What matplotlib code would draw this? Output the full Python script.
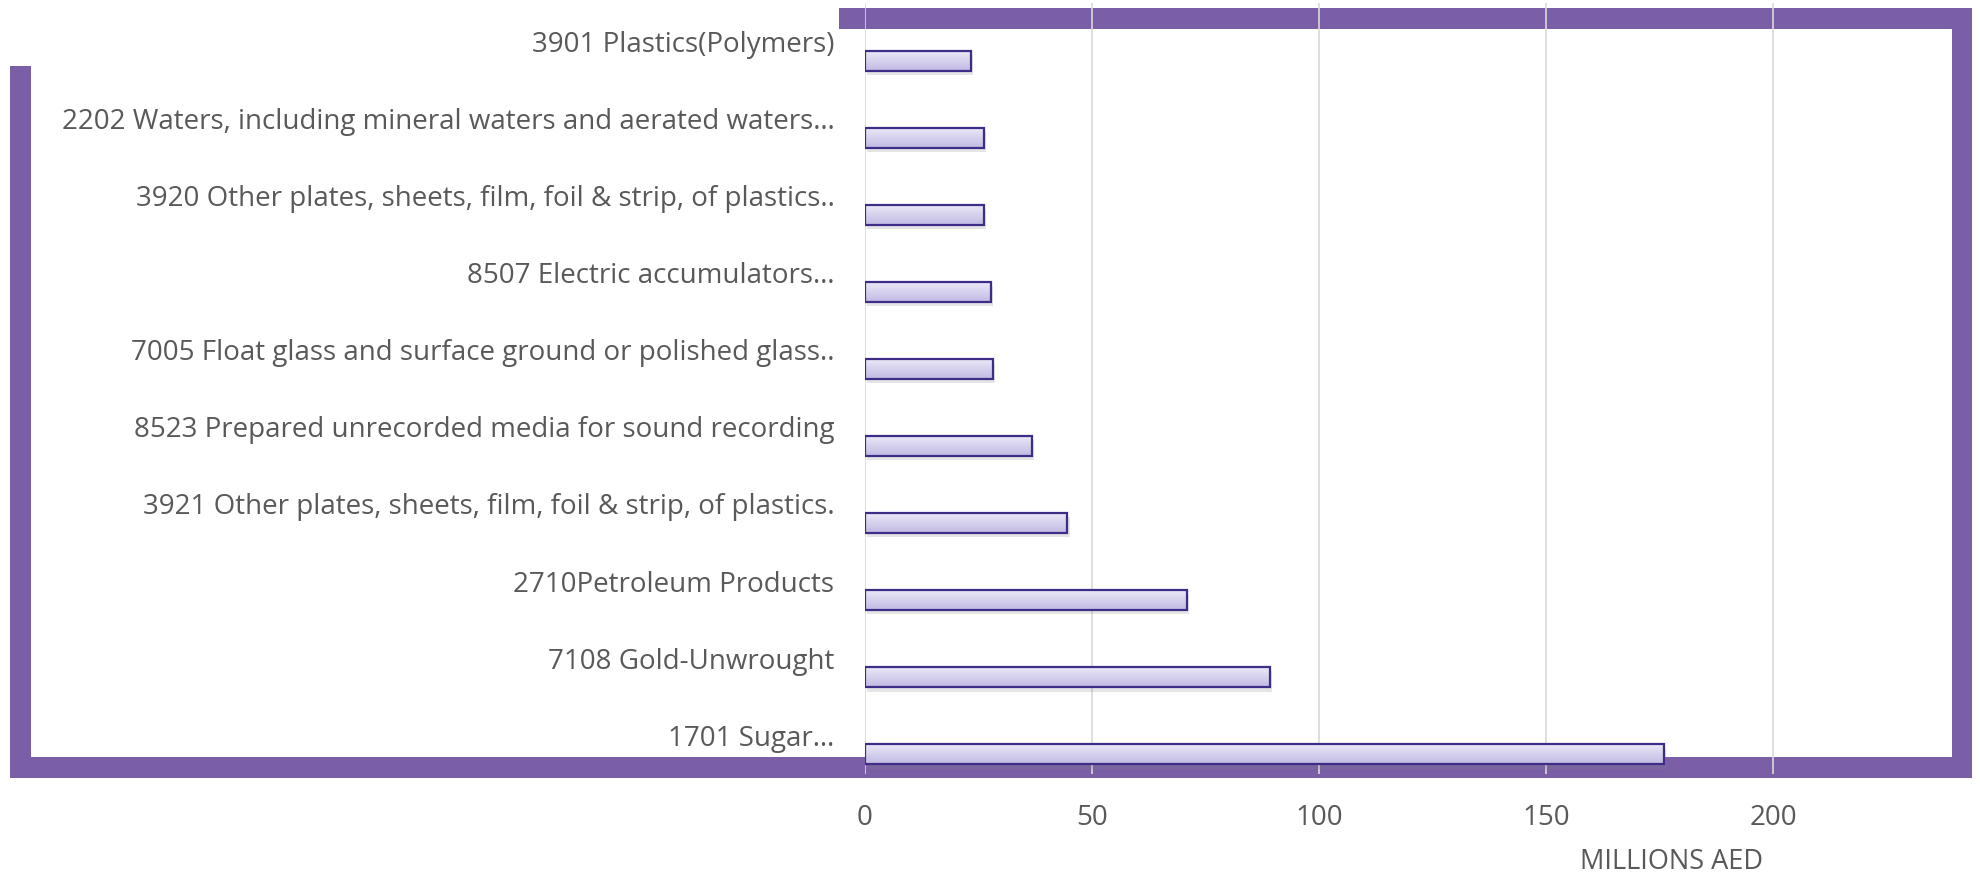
import matplotlib
matplotlib.use("Agg")
import matplotlib.pyplot as plt
import matplotlib.patheffects as pe
from matplotlib.colors import LinearSegmentedColormap
from matplotlib.patches import Rectangle
import numpy as np

# data, top to bottom
labels = [
    "3901 Plastics(Polymers)",
    "2202 Waters, including mineral waters and aerated waters…",
    "3920 Other plates, sheets, film, foil & strip, of plastics..",
    "8507 Electric accumulators…",
    "7005 Float glass and surface ground or polished glass..",
    "8523 Prepared unrecorded media for sound recording",
    "3921 Other plates, sheets, film, foil & strip, of plastics.",
    "2710Petroleum Products",
    "7108 Gold-Unwrought",
    "1701 Sugar…",
]
values = [23.3, 26.2, 26.2, 27.7, 28.2, 36.7, 44.6, 70.9, 89.3, 176.0]
x_ticks = [0, 50, 100, 150, 200]

W, H = 1981, 876
FRAME = "#7A5FA6"
TEXT = "#595959"
FONT = ["Open Sans", "DejaVu Sans"]

fig = plt.figure(figsize=(W / 100, H / 100), dpi=100)
fig.patch.set_facecolor("white")


def frame_rect(x0, y0, x1, y1):
    # pixel box (top-left origin) -> figure fraction rectangle
    r = Rectangle((x0 / W, 1 - y1 / H), (x1 - x0) / W, (y1 - y0) / H,
                  transform=fig.transFigure, facecolor=FRAME,
                  edgecolor="none", zorder=0)
    fig.add_artist(r)


# decorative purple frame behind the chart
frame_rect(839, 8, 1972, 29)
frame_rect(1952, 8, 1972, 778)
frame_rect(10, 757, 1972, 778)
frame_rect(10, 66, 31, 778)

ax = fig.add_axes([0.43665, 0.1168, 0.5500, 0.8798])
ax.set_zorder(1)
ax.set_facecolor("none")

pos = np.arange(len(labels))
bar_h = 0.26
off = 0.25

# shadow + base fill
base = ax.barh(pos + off, values, height=bar_h, color="#C9C2E8",
               edgecolor="none", zorder=2)
for b in base:
    b.set_path_effects([pe.SimplePatchShadow(offset=(1.5, -3),
                                             shadow_rgbFace="#808080",
                                             alpha=0.2),
                        pe.Normal()])

# gradient fill clipped to each bar
cmap = LinearSegmentedColormap.from_list("lav", ["#ECEAF8", "#C2BAE3"])
grad = np.linspace(0, 1, 64).reshape(-1, 1)
for b, y, v in zip(base, pos + off, values):
    im = ax.imshow(grad, cmap=cmap, aspect="auto", zorder=3,
                   extent=(0, v, y + bar_h / 2, y - bar_h / 2))
    im.set_clip_path(b)

# outlines
ax.barh(pos + off, values, height=bar_h, facecolor="none",
        edgecolor="#3F2C88", linewidth=1.6, zorder=4)

ax.set_xlim(0, 240)
ax.set_ylim(len(labels) - 0.5, -0.5)

ax.set_xticks(x_ticks)
ax.set_yticks(pos)
ax.set_yticklabels(labels)
ax.tick_params(axis="both", length=0, colors=TEXT, labelsize=20)
ax.tick_params(axis="y", pad=22)
ax.tick_params(axis="x", pad=22)
for t in ax.get_xticklabels() + ax.get_yticklabels():
    t.set_family(FONT)

ax.grid(axis="x", color="#D9D9D9", linewidth=1.2)
ax.set_axisbelow(True)
for s in ax.spines.values():
    s.set_visible(False)

fig.text(1672 / W, 1 - 862 / H, "MILLIONS AED", ha="center", va="center",
         fontsize=19.5, color=TEXT, family=FONT)

fig.savefig("out.png", dpi=100)
